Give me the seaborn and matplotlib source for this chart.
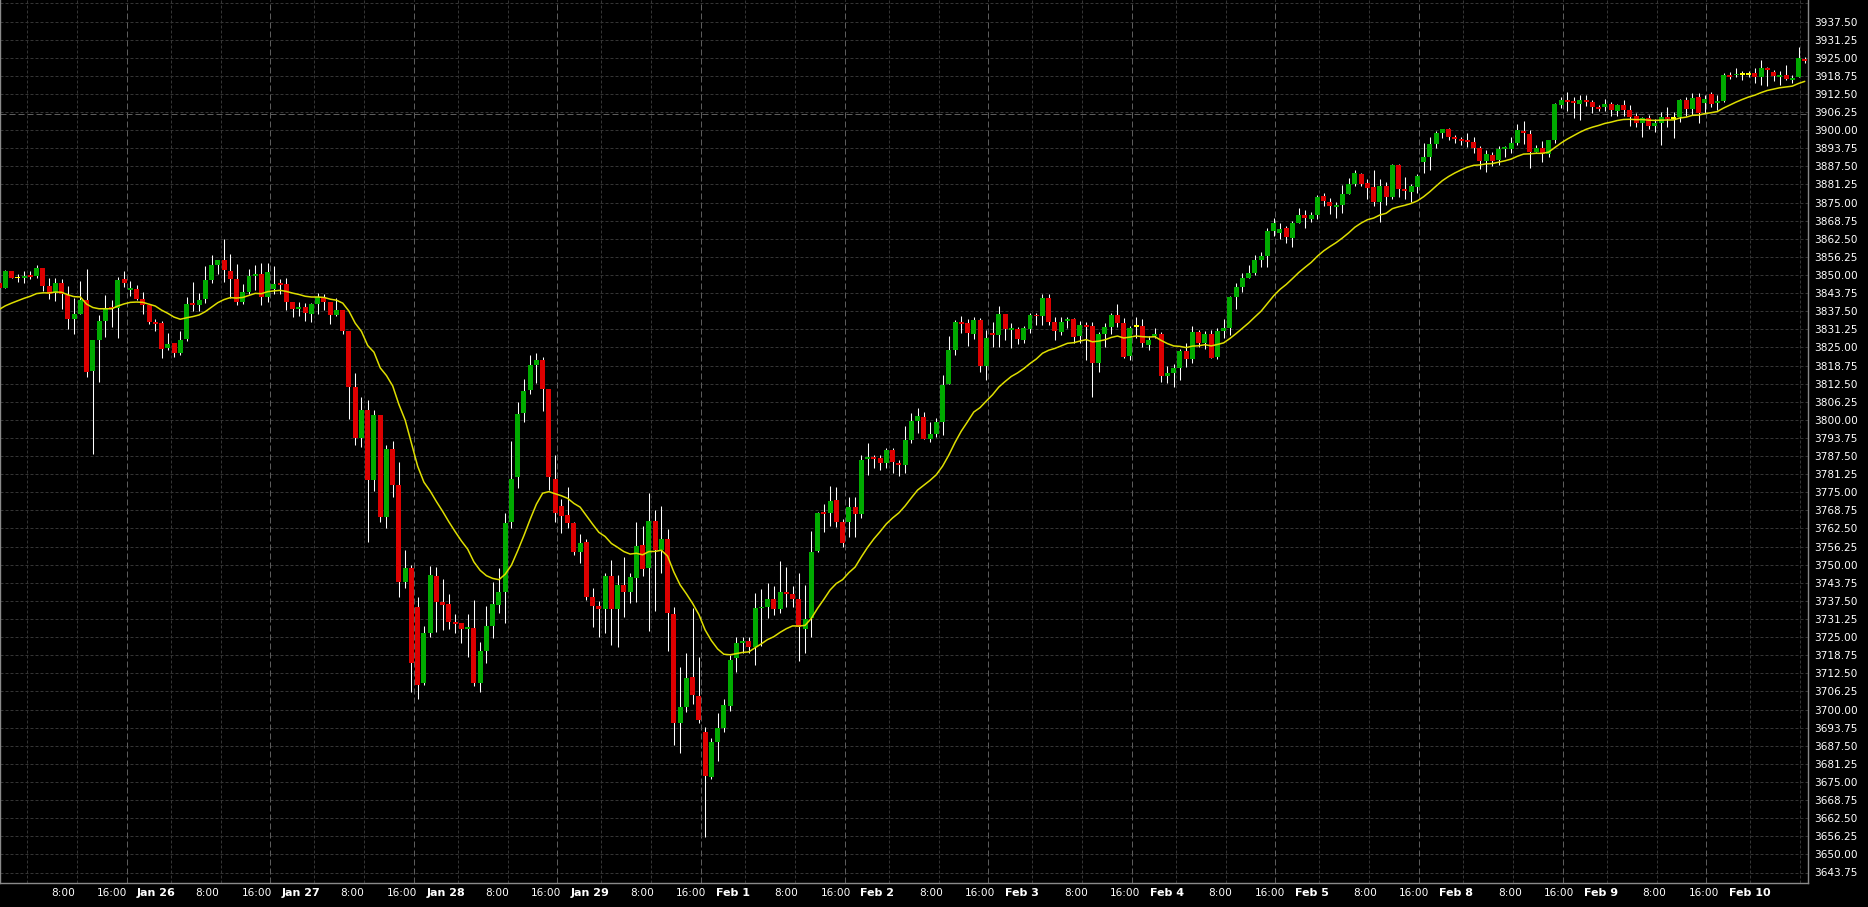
import numpy as np
import pandas as pd
import matplotlib
matplotlib.use("Agg")
import matplotlib.pyplot as plt
import seaborn as sns

# ---------------- data (hourly candles) ----------------
opens = [
    3847.3, 3845.6, 3851.4, 3849.1, 3849.1, 3850.0, 3849.7, 3852.3, 3846.2, 3843.7,
    3847.2, 3843.1, 3834.8, 3836.5, 3841.4, 3817.0, 3827.6, 3834.2, 3838.8, 3838.5,
    3848.5, 3844.8, 3845.2, 3841.7, 3839.6, 3833.9, 3833.4, 3824.7, 3826.5, 3823.2,
    3827.9, 3840.2, 3839.6, 3841.7, 3848.3, 3853.5, 3855.2, 3851.3, 3848.6, 3840.7,
    3844.1, 3849.7, 3850.5, 3842.5, 3845.1, 3847.3, 3846.8, 3840.7, 3838.2, 3838.9,
    3836.6, 3839.9, 3842.5, 3840.7, 3836.1, 3837.9, 3830.7, 3811.2, 3793.9, 3803.4,
    3779.4, 3801.6, 3766.6, 3789.8, 3777.5, 3744.1, 3748.7, 3735.5, 3709.1, 3726.3,
    3746.1, 3737.1, 3736.4, 3730.2, 3729.8, 3727.7, 3728.1, 3709.1, 3720.3, 3728.8,
    3736.1, 3740.7, 3764.9, 3780.2, 3802.2, 3810.3, 3818.9, 3820.7, 3810.6, 3779.5,
    3770.3, 3767.2, 3764.5, 3754.5, 3757.9, 3739.0, 3735.9, 3734.6, 3746.1, 3734.6,
    3743.0, 3740.7, 3745.5, 3756.8, 3749.0, 3765.1, 3755.1, 3758.9, 3733.0, 3695.5,
    3700.8, 3711.1, 3704.7, 3692.4, 3676.8, 3688.9, 3693.5, 3701.2, 3717.7, 3723.1,
    3723.7, 3721.7, 3734.9, 3735.5, 3738.2, 3734.6, 3740.6, 3740.0, 3738.0, 3727.7,
    3731.7, 3754.8, 3767.9, 3767.9, 3772.3, 3764.9, 3764.9, 3770.0, 3767.4, 3786.4,
    3787.0, 3786.7, 3785.2, 3789.6, 3785.0, 3784.4, 3793.0, 3799.6, 3801.1, 3793.4,
    3795.1, 3799.4, 3812.4, 3824.1, 3833.9, 3833.3, 3829.6, 3834.5, 3818.6, 3829.6,
    3829.2, 3836.5, 3831.0, 3831.2, 3827.6, 3831.4, 3836.3, 3835.7, 3841.9, 3833.9,
    3830.4, 3834.0, 3834.7, 3828.9, 3832.7, 3832.4, 3819.7, 3829.8, 3832.2, 3836.2,
    3833.3, 3822.1, 3832.5, 3832.5, 3825.8, 3828.9, 3829.6, 3815.2, 3816.0, 3818.0,
    3823.9, 3820.9, 3830.4, 3826.6, 3829.6, 3821.8, 3830.8, 3831.8, 3842.3, 3845.7,
    3849.1, 3850.8, 3855.2, 3856.6, 3865.3, 3864.4, 3866.1, 3862.6, 3867.8, 3870.7,
    3869.2, 3870.7, 3877.3, 3875.2, 3873.5, 3874.2, 3877.9, 3881.4, 3884.9, 3881.6,
    3880.3, 3875.2, 3880.7, 3877.0, 3888.0, 3879.7, 3878.8, 3880.5, 3889.1, 3890.6,
    3895.2, 3899.1, 3900.3, 3897.5, 3896.8, 3896.6, 3896.0, 3893.9, 3889.5, 3891.4,
    3889.7, 3893.4, 3893.5, 3895.5, 3899.7, 3898.7, 3892.6, 3893.7, 3891.8, 3896.6,
    3908.7, 3910.4, 3910.1, 3909.0, 3910.4, 3909.8, 3907.9, 3907.9, 3909.0, 3906.7,
    3908.7, 3907.0, 3904.9, 3902.3, 3904.1, 3901.4, 3902.6, 3904.4, 3904.1, 3904.4,
    3910.4, 3907.2, 3911.3, 3909.3, 3912.5, 3909.5, 3910.2, 3919.0, 3918.9, 3919.3,
    3919.3, 3919.6, 3918.5, 3921.3, 3920.2, 3918.5, 3919.0, 3917.3, 3918.2, 3924.4,
]
highs = [
    3847.8, 3851.7, 3851.4, 3850.2, 3851.4, 3851.4, 3853.5, 3852.3, 3848.8, 3849.1,
    3848.6, 3846.2, 3841.9, 3847.9, 3852.1, 3827.6, 3836.2, 3843.1, 3841.4, 3849.4,
    3851.4, 3847.9, 3846.5, 3844.2, 3839.6, 3834.7, 3834.2, 3830.1, 3826.5, 3830.7,
    3842.5, 3847.5, 3843.7, 3853.1, 3856.9, 3855.2, 3862.3, 3857.2, 3853.7, 3846.8,
    3852.2, 3853.4, 3854.2, 3854.2, 3853.0, 3848.5, 3848.8, 3840.7, 3840.7, 3840.2,
    3840.2, 3843.9, 3843.4, 3840.7, 3841.9, 3837.9, 3830.7, 3816.0, 3808.0, 3807.0,
    3803.4, 3801.6, 3791.3, 3792.7, 3785.6, 3755.1, 3750.0, 3739.0, 3728.8, 3749.5,
    3749.1, 3744.9, 3739.9, 3733.0, 3729.8, 3733.0, 3737.8, 3723.4, 3735.7, 3744.1,
    3748.7, 3767.7, 3792.8, 3806.3, 3814.0, 3822.4, 3823.2, 3821.8, 3810.6, 3787.9,
    3772.6, 3776.9, 3764.9, 3760.6, 3758.8, 3741.8, 3737.6, 3747.2, 3751.6, 3746.4,
    3752.5, 3747.0, 3764.9, 3763.4, 3774.9, 3768.9, 3770.3, 3762.3, 3735.3, 3714.6,
    3719.6, 3735.2, 3718.2, 3693.9, 3690.1, 3698.7, 3703.5, 3718.8, 3724.9, 3725.1,
    3725.1, 3740.1, 3741.5, 3743.6, 3742.6, 3751.4, 3749.1, 3742.6, 3747.2, 3743.0,
    3761.8, 3768.3, 3770.9, 3777.3, 3776.7, 3765.7, 3773.5, 3773.3, 3787.9, 3792.1,
    3787.9, 3787.9, 3790.2, 3790.2, 3786.1, 3797.9, 3802.2, 3804.2, 3802.8, 3799.4,
    3800.8, 3815.5, 3828.9, 3834.5, 3835.8, 3834.7, 3835.4, 3835.1, 3831.0, 3833.9,
    3839.3, 3836.5, 3833.3, 3832.2, 3832.4, 3836.8, 3836.8, 3843.4, 3843.4, 3835.4,
    3835.6, 3835.4, 3835.1, 3834.2, 3833.9, 3833.9, 3830.4, 3833.3, 3837.0, 3840.0,
    3835.3, 3832.4, 3835.4, 3834.7, 3828.9, 3831.6, 3830.4, 3818.7, 3819.3, 3824.3,
    3826.6, 3832.4, 3831.0, 3830.8, 3831.0, 3831.6, 3834.7, 3842.7, 3847.4, 3850.6,
    3853.4, 3856.9, 3858.0, 3866.1, 3869.6, 3867.8, 3866.9, 3868.7, 3873.0, 3872.5,
    3871.9, 3877.6, 3878.2, 3876.5, 3875.3, 3881.1, 3883.4, 3886.2, 3885.3, 3883.0,
    3886.2, 3883.0, 3882.2, 3888.3, 3888.3, 3883.7, 3881.4, 3884.9, 3895.5, 3897.7,
    3899.8, 3900.3, 3900.6, 3898.3, 3897.7, 3899.1, 3897.7, 3894.5, 3893.2, 3892.6,
    3894.5, 3894.5, 3897.5, 3902.1, 3903.3, 3900.1, 3894.9, 3896.4, 3896.6, 3909.5,
    3911.6, 3913.3, 3911.6, 3912.1, 3912.1, 3910.4, 3908.7, 3910.6, 3909.8, 3909.0,
    3910.4, 3908.7, 3906.0, 3904.4, 3905.2, 3903.7, 3906.4, 3907.9, 3906.4, 3910.6,
    3911.6, 3912.7, 3912.7, 3912.1, 3913.3, 3912.1, 3919.6, 3920.2, 3921.3, 3920.5,
    3920.5, 3921.3, 3924.2, 3921.7, 3920.8, 3920.5, 3922.5, 3919.0, 3928.8, 3925.4,
]
lows = [
    3845.2, 3845.6, 3848.9, 3847.7, 3847.4, 3848.6, 3848.8, 3844.6, 3841.7, 3841.1,
    3838.3, 3831.4, 3829.6, 3836.5, 3814.9, 3788.2, 3813.2, 3828.7, 3832.2, 3828.4,
    3846.0, 3842.9, 3841.3, 3836.5, 3833.1, 3830.6, 3821.5, 3824.1, 3821.8, 3822.4,
    3827.3, 3837.7, 3837.6, 3840.4, 3847.1, 3850.3, 3847.6, 3842.2, 3839.6, 3840.0,
    3843.4, 3844.8, 3839.6, 3840.7, 3843.6, 3843.6, 3837.9, 3835.6, 3835.8, 3834.2,
    3833.8, 3836.5, 3837.9, 3833.0, 3835.8, 3829.6, 3800.3, 3791.3, 3790.7, 3758.0,
    3775.5, 3764.8, 3762.5, 3773.5, 3739.0, 3741.8, 3706.2, 3703.5, 3708.5, 3724.9,
    3726.9, 3727.5, 3727.7, 3726.3, 3723.1, 3718.3, 3708.1, 3706.2, 3715.9, 3724.6,
    3733.4, 3729.8, 3762.6, 3776.4, 3799.4, 3808.8, 3812.8, 3803.2, 3775.8, 3764.9,
    3761.1, 3762.6, 3753.3, 3750.5, 3737.8, 3728.6, 3725.2, 3726.5, 3722.3, 3721.5,
    3732.1, 3736.7, 3737.2, 3746.2, 3727.2, 3734.1, 3747.2, 3720.3, 3687.8, 3685.1,
    3699.3, 3701.9, 3695.2, 3656.1, 3676.0, 3682.2, 3692.4, 3699.6, 3712.8, 3719.4,
    3719.4, 3715.3, 3721.9, 3731.5, 3732.6, 3733.2, 3735.5, 3735.5, 3716.9, 3719.6,
    3725.2, 3754.5, 3761.4, 3763.4, 3763.1, 3756.2, 3759.7, 3759.7, 3766.0, 3781.0,
    3783.3, 3782.7, 3783.3, 3781.8, 3780.6, 3781.5, 3791.9, 3795.3, 3793.4, 3792.5,
    3794.2, 3794.8, 3812.4, 3822.4, 3830.1, 3825.5, 3827.8, 3816.6, 3813.8, 3825.3,
    3825.3, 3827.6, 3824.9, 3826.1, 3826.6, 3830.1, 3832.7, 3832.7, 3832.7, 3827.6,
    3829.3, 3831.6, 3826.6, 3826.4, 3820.7, 3807.8, 3816.6, 3825.0, 3829.6, 3832.2,
    3821.2, 3820.6, 3828.1, 3825.3, 3824.1, 3828.1, 3813.2, 3812.8, 3811.2, 3813.7,
    3818.1, 3819.7, 3825.0, 3824.3, 3821.2, 3821.0, 3828.1, 3829.3, 3838.3, 3844.2,
    3849.1, 3850.0, 3852.6, 3852.6, 3863.5, 3862.3, 3860.9, 3859.8, 3867.8, 3866.1,
    3868.4, 3869.2, 3873.8, 3871.1, 3869.8, 3871.5, 3877.9, 3880.7, 3880.7, 3876.1,
    3873.8, 3868.4, 3874.2, 3876.1, 3876.8, 3876.1, 3875.3, 3878.4, 3885.3, 3886.2,
    3893.7, 3897.2, 3896.6, 3895.5, 3894.9, 3894.3, 3892.2, 3886.5, 3885.7, 3887.7,
    3888.0, 3890.6, 3892.0, 3894.9, 3895.2, 3886.8, 3892.6, 3889.1, 3890.8, 3895.7,
    3907.5, 3906.6, 3904.1, 3903.5, 3908.3, 3906.0, 3906.6, 3906.6, 3904.9, 3904.9,
    3904.9, 3901.4, 3901.2, 3897.8, 3900.3, 3899.5, 3894.9, 3901.2, 3897.2, 3902.9,
    3904.9, 3905.2, 3902.3, 3906.0, 3908.1, 3907.0, 3909.8, 3917.5, 3918.5, 3917.3,
    3918.5, 3916.2, 3915.6, 3915.2, 3917.1, 3915.6, 3917.3, 3916.4, 3918.2, 3923.1,
]
closes = [
    3845.6, 3851.4, 3849.1, 3849.1, 3849.8, 3849.4, 3852.3, 3846.3, 3843.4, 3847.2,
    3843.3, 3834.8, 3836.5, 3841.4, 3816.6, 3827.6, 3834.1, 3838.5, 3838.1, 3848.3,
    3847.1, 3845.6, 3841.7, 3839.6, 3833.9, 3833.2, 3824.5, 3826.2, 3823.2, 3827.6,
    3840.0, 3839.6, 3841.4, 3848.3, 3853.5, 3855.2, 3851.7, 3848.6, 3840.7, 3844.1,
    3849.6, 3850.5, 3842.5, 3851.1, 3846.8, 3846.5, 3840.7, 3838.2, 3838.9, 3836.8,
    3839.9, 3842.5, 3840.7, 3836.1, 3837.9, 3830.7, 3811.2, 3793.9, 3803.4, 3779.4,
    3801.6, 3766.6, 3790.1, 3777.5, 3744.1, 3748.7, 3716.2, 3708.5, 3726.3, 3746.4,
    3737.2, 3736.1, 3730.3, 3729.5, 3727.7, 3728.5, 3709.1, 3720.3, 3728.8, 3736.4,
    3740.7, 3764.5, 3779.5, 3802.0, 3810.0, 3818.9, 3820.7, 3810.6, 3780.2, 3767.9,
    3766.9, 3764.5, 3754.5, 3757.6, 3739.0, 3735.9, 3734.6, 3746.1, 3734.6, 3743.0,
    3740.7, 3745.6, 3756.5, 3748.5, 3765.1, 3755.1, 3758.9, 3733.4, 3695.5, 3700.8,
    3710.8, 3705.0, 3696.4, 3677.1, 3688.9, 3693.5, 3701.6, 3717.1, 3723.1, 3723.7,
    3721.7, 3734.9, 3735.5, 3738.2, 3734.6, 3740.7, 3740.0, 3738.0, 3728.4, 3731.1,
    3754.5, 3767.9, 3767.4, 3772.0, 3764.9, 3757.4, 3770.0, 3767.4, 3786.1, 3787.3,
    3786.5, 3785.2, 3789.6, 3785.6, 3784.4, 3793.0, 3799.6, 3801.3, 3793.4, 3795.1,
    3799.4, 3812.0, 3824.1, 3833.9, 3833.2, 3830.1, 3834.5, 3818.6, 3828.1, 3829.2,
    3836.5, 3831.4, 3831.6, 3827.9, 3831.8, 3836.2, 3835.7, 3841.9, 3833.9, 3830.8,
    3833.9, 3834.7, 3828.7, 3832.7, 3832.2, 3819.7, 3829.6, 3831.9, 3836.2, 3833.5,
    3821.8, 3831.6, 3832.5, 3826.4, 3827.6, 3829.6, 3815.2, 3816.0, 3817.8, 3823.9,
    3820.9, 3830.4, 3826.6, 3829.6, 3821.5, 3830.8, 3831.8, 3842.5, 3846.0, 3849.1,
    3850.8, 3855.2, 3856.6, 3865.3, 3867.8, 3865.9, 3863.0, 3867.8, 3870.7, 3869.6,
    3870.7, 3877.0, 3875.7, 3873.9, 3874.2, 3877.9, 3881.4, 3885.1, 3881.4, 3880.1,
    3875.2, 3880.7, 3877.0, 3888.0, 3879.7, 3878.9, 3880.7, 3884.2, 3890.6, 3895.2,
    3899.1, 3900.3, 3897.7, 3896.8, 3896.3, 3896.0, 3893.9, 3889.5, 3891.8, 3889.5,
    3893.5, 3893.8, 3895.7, 3900.1, 3899.1, 3892.6, 3893.7, 3891.8, 3896.6, 3909.0,
    3910.4, 3909.8, 3909.3, 3910.4, 3909.8, 3908.1, 3907.3, 3909.0, 3907.0, 3908.7,
    3907.0, 3904.4, 3902.3, 3904.1, 3901.4, 3902.6, 3904.4, 3903.7, 3904.1, 3910.4,
    3907.2, 3911.0, 3906.0, 3910.6, 3909.0, 3910.2, 3919.0, 3918.5, 3919.4, 3919.3,
    3919.3, 3918.2, 3921.3, 3920.8, 3918.7, 3919.0, 3917.5, 3917.9, 3924.8, 3923.9,
]
ma_seed = 3837.3          # moving-average value at the left edge
ma_span = 20              # exponential moving average period
level_line = 3905.6       # horizontal dashed price line
date_labels = ["Jan 26", "Jan 27", "Jan 28", "Jan 29", "Feb 1", "Feb 2",
               "Feb 3", "Feb 4", "Feb 5", "Feb 8", "Feb 9", "Feb 10"]
hour_labels = ["8:00", "16:00"]

# ---------------- layout ----------------
W, H = 1868, 907
PLOT_R, PLOT_B = 1808, 883
BAR_PX, BAR0_PX = 6.248, -0.92
PX_PER_PT, Y_REF_PX, Y_REF_PRICE = 2.897, 872.5, 3643.75


def px2idx(px):
    return (px - BAR0_PX) / BAR_PX


def py2price(py):
    return Y_REF_PRICE + (Y_REF_PX - py) / PX_PER_PT


sns.set_theme(style="dark", rc={"axes.facecolor": "black", "figure.facecolor": "black"})
plt.rcParams["font.family"] = ["DejaVu Sans"]

fig = plt.figure(figsize=(W / 100, H / 100), dpi=100, facecolor="black")
ax = fig.add_axes([0, (H - PLOT_B) / H, PLOT_R / W, PLOT_B / H])
ax.set_facecolor("black")
ax.set_xlim(px2idx(0), px2idx(PLOT_R))
ax.set_ylim(py2price(PLOT_B), py2price(0))

GRID_MINOR = "#343434"
GRID_MAJOR = "#5c5c5c"

# grid
yticks = np.arange(3643.75, 3937.51, 6.25)
for v in np.arange(3643.75, 3950, 6.25):
    ax.axhline(v, color=GRID_MINOR, lw=0.72, linestyle=(0, (3, 2)), zorder=0)
for m in range(-1, 13):
    major = 126.7 + 143.6 * m
    if 0 <= major <= PLOT_R:
        ax.axvline(px2idx(major), color=GRID_MAJOR, lw=0.72, linestyle=(0, (6, 3)), zorder=0)
    for off in (44, 94):
        p = major + off
        if 0 <= p <= PLOT_R:
            ax.axvline(px2idx(p), color=GRID_MINOR, lw=0.72, linestyle=(0, (3, 2)), zorder=0)
ax.axhline(level_line, color=GRID_MAJOR, lw=0.72, linestyle=(0, (6, 3)), zorder=0.5)

# candles
o = np.array(opens); h = np.array(highs); l = np.array(lows); c = np.array(closes)
idx = np.arange(len(c))
ax.vlines(idx, l, h, color="white", lw=0.75, zorder=2)
diff = c - o
doji = np.abs(diff) < 0.05
up = (diff > 0) & ~doji
dn = (diff < 0) & ~doji
bw = 0.8
minh = 0.65
for mask, col in ((up, "#00aa00"), (dn, "#dd0000")):
    bottoms = np.minimum(o, c)[mask]
    hts = np.maximum(np.abs(diff)[mask], minh)
    ax.bar(idx[mask], hts, bottom=bottoms, width=bw, color=col, linewidth=0, zorder=3)
ax.bar(idx[doji], 0.6, bottom=c[doji] - 0.3, width=bw, color="#ffff00", linewidth=0, zorder=3)

# moving average (EMA of closes)
ma = pd.Series([ma_seed] + closes).ewm(span=ma_span, adjust=False).mean().iloc[1:].to_numpy()
sns.lineplot(x=idx, y=ma, ax=ax, color="#dede00", lw=1.1, estimator=None, zorder=4)

# frame
for side in ("left", "bottom", "right"):
    ax.spines[side].set_visible(True)
    ax.spines[side].set_color("#8a8a8a")
    ax.spines[side].set_linewidth(1.0)
ax.spines["top"].set_visible(False)
ax.grid(False)

# right price axis
ax.yaxis.tick_right()
ax.set_yticks(yticks)
ax.set_yticklabels([f"{v:.2f}" for v in yticks])
ax.tick_params(axis="y", length=0, pad=4.5, labelsize=7.6, labelcolor="white")
ax.set_xticks([])
ax.set_xlabel("")
ax.set_ylabel("")

# bottom time labels
ty = 1 - 893 / H
for d, lab in enumerate(date_labels):
    left = 137 + 144.7 * d
    fig.text((left - 86.0) / W, ty, hour_labels[0], color="white", fontsize=7.6,
             ha="left", va="center")
    fig.text((left - 40.0) / W, ty, hour_labels[1], color="white", fontsize=7.6,
             ha="left", va="center")
    fig.text(left / W, ty, lab, color="white", fontsize=8.0, fontweight="bold",
             ha="left", va="center")

fig.savefig("out.png", dpi=100, facecolor="black")
